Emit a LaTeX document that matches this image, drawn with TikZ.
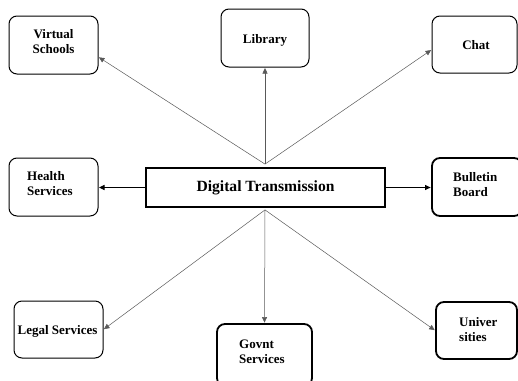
\documentclass[tikz,border=0pt]{standalone}
\usepackage{fontspec}
\setmainfont{Liberation Serif}
\usetikzlibrary{arrows.meta,calc}
\begin{document}
\begin{tikzpicture}[x=1pt,y=-1pt,
  box/.style={draw, rounded corners=8pt, line width=1pt, inner sep=0pt},
  thickbox/.style={box, line width=1.8pt},
  lbl/.style={inner sep=0pt, font=\fontsize{13}{15}\selectfont\bfseries, align=left},
  clbl/.style={lbl, align=center},
  conn/.style={draw=black!65, line width=0.5pt, -{Triangle[length=5.5pt,width=5pt]}, shorten >=0.5pt},
  hconn/.style={draw=black, line width=0.9pt, -{Triangle[length=5.5pt,width=5pt]}, shorten >=0.5pt}
]
\useasboundingbox (0,0) rectangle (518,380);
% boxes
\node[box, minimum width=89pt, minimum height=58pt] (vs) at (53.5,45) {};
\node[box, minimum width=88pt, minimum height=58pt] (lib) at (265,38) {};
\node[box, minimum width=85pt, minimum height=57pt] (chat) at (474.5,44.5) {};
\node[box, minimum width=89pt, minimum height=58pt] (health) at (53.5,187) {};
\node[draw, line width=1.8pt, minimum width=239pt, minimum height=39pt, inner sep=0pt] (dt) at (265.5,187.5) {};
\node[thickbox, minimum width=90pt, minimum height=58pt] (bb) at (477,187) {};
\node[box, minimum width=89pt, minimum height=57pt] (legal) at (58.5,329.5) {};
\node[thickbox, minimum width=95pt, minimum height=62pt] (govt) at (264.5,355) {};
\node[thickbox, minimum width=81pt, minimum height=57pt] (univ) at (476.5,330.5) {};
% labels
\node[clbl] (tvs) at (53.5,42) {Virtual\\Schools};
\node[clbl] (tlib) at (265,40) {Library};
\node[clbl] (tchat) at (476,45.5) {Chat};
\node[lbl, anchor=west] (thealth) at (27,184) {Health\\Services};
\node[clbl, font=\fontsize{15.6}{18}\selectfont\bfseries] (tdt) at (265.5,187.5) {Digital Transmission};
\node[lbl, anchor=west] (tbb) at (453,185) {Bulletin\\Board};
\node[clbl] (tlegal) at (57.5,331.5) {Legal Services};
\node[lbl, anchor=west] (tgovt) at (239,351.5) {Govnt\\Services};
\node[lbl, anchor=west] (tuniv) at (459,330) {Univer\\sities};
% connectors
\coordinate (ct) at ($(dt.north)+(-0.5,-3)$);
\coordinate (cb) at ($(dt.south)+(-0.5,2)$);
\draw[conn] (ct) -- (vs.-15);
\draw[conn] (ct) -- (lib.south);
\draw[conn] (ct) -- (chat.187);
\draw[hconn] (dt.west) -- (dt.west -| health.east);
\draw[hconn] (dt.east) -- (dt.east -| bb.west);
\draw[conn] (cb) -- (legal.east);
\draw[conn] (cb) -- (govt.north);
\draw[conn] (cb) -- (univ.west);
\end{tikzpicture}
\end{document}
